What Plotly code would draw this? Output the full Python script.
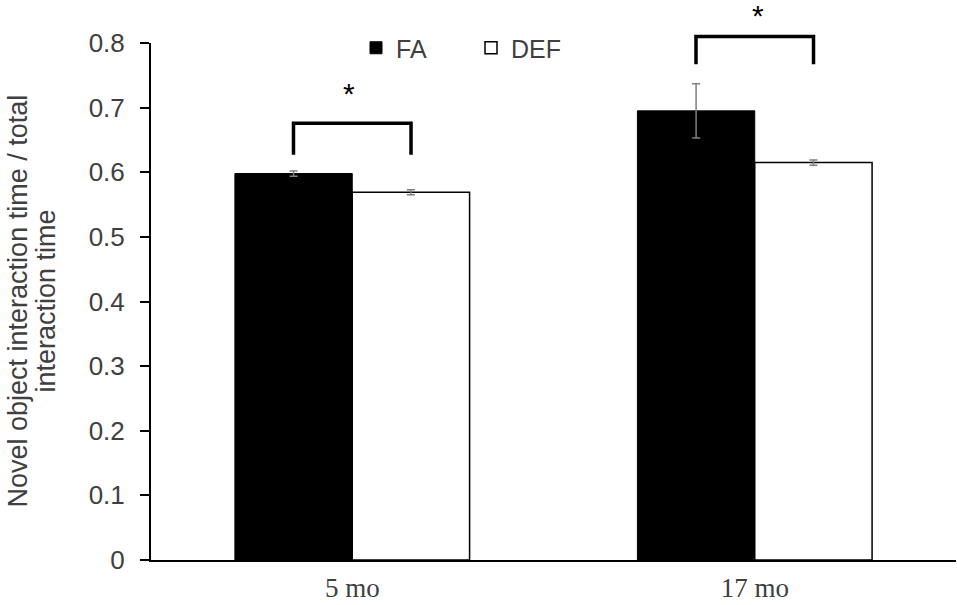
import plotly.graph_objects as go

# ---- data ----
categories = ["5 mo", "17 mo"]
fa_values = [0.598, 0.695]
fa_errors = [0.004, 0.042]
def_values = [0.569, 0.615]
def_errors = [0.004, 0.004]
series_names = ["FA", "DEF"]
y_ticks = [0, 0.1, 0.2, 0.3, 0.4, 0.5, 0.6, 0.7, 0.8]
y_title_lines = ["Novel object interaction time / total", "interaction time"]

# significance brackets (data units)
sig_low = [0.627, 0.767]
sig_high = [0.676, 0.810]
sig_star_y = [0.722, 0.842]
sig_star_shift = [-3, 3]
sig_label = "*"

Y_MAX = 0.8
HALF = 0.146  # offset from category centre to bar centre (category units)

L, R, T, B = 151, 1, 43, 45
W, H = 957, 605
PW = W - L - R
PH = H - T - B

SANS = "Liberation Sans, Arial, sans-serif"
SERIF = "Liberation Serif, Times New Roman, serif"
TXT = "#404040"

fig = go.Figure()
fig.add_trace(go.Bar(
    x=categories, y=fa_values, name=series_names[0],
    marker=dict(color="black", line=dict(color="black", width=1)),
    error_y=dict(type="data", array=fa_errors, color="#7f7f7f", thickness=1.5, width=4),
))
fig.add_trace(go.Bar(
    x=categories, y=def_values, name=series_names[1],
    marker=dict(color="white", line=dict(color="black", width=1.5)),
    error_y=dict(type="data", array=def_errors, color="#7f7f7f", thickness=1.5, width=4),
))

def yp(v):
    return v / Y_MAX

for i in range(len(categories)):
    xl, xr = i - HALF, i + HALF
    fig.add_shape(type="path", xref="x", yref="paper",
                  path=f"M {xl},{yp(sig_low[i])} L {xl},{yp(sig_high[i])} L {xr},{yp(sig_high[i])} L {xr},{yp(sig_low[i])}",
                  line=dict(color="black", width=3.5))
    fig.add_annotation(x=i, y=yp(sig_star_y[i]), xref="x", yref="paper",
                       text=sig_label, showarrow=False, xshift=sig_star_shift[i],
                       font=dict(family=SANS, size=30, color="black"),
                       yanchor="middle")

# y-axis title, two lines
for k, line in enumerate(y_title_lines):
    fig.add_annotation(
        text=line, xref="paper", yref="paper",
        x=-(L - [17, 45][k]) / PW, y=0.5,
        textangle=-90, showarrow=False, xanchor="center", yanchor="middle",
        font=dict(family=SANS, size=27, color=TXT),
    )

fig.update_layout(
    width=W, height=H,
    margin=dict(l=L, r=R, t=T, b=B, autoexpand=False),
    plot_bgcolor="white", paper_bgcolor="white",
    barmode="group", bargap=0.417, bargroupgap=0,
    showlegend=True,
    legend=dict(orientation="h", x=(369 - L - 13) / PW, xanchor="left",
                y=1 - (48 - T) / PH, yanchor="middle",
                font=dict(family=SANS, size=25, color=TXT),
                bgcolor="rgba(0,0,0,0)", entrywidth=70),
    xaxis=dict(showline=True, linecolor="black", linewidth=2, ticks="",
               tickfont=dict(family=SERIF, size=27, color=TXT),
               ticklabelstandoff=3, automargin=False,
               showgrid=False, zeroline=False, range=[-0.5, 1.5]),
    yaxis=dict(range=[0, Y_MAX], tickvals=y_ticks, showline=True, linecolor="black",
               linewidth=2, ticks="outside", ticklen=9, tickwidth=2, tickcolor="black",
               tickfont=dict(family=SANS, size=26, color=TXT),
               ticklabelstandoff=10, automargin=False,
               showgrid=False, zeroline=False),
)

fig.write_html("out.html", config={"displayModeBar": False},
               post_script="document.body.style.margin='0';document.body.style.overflow='hidden';")
